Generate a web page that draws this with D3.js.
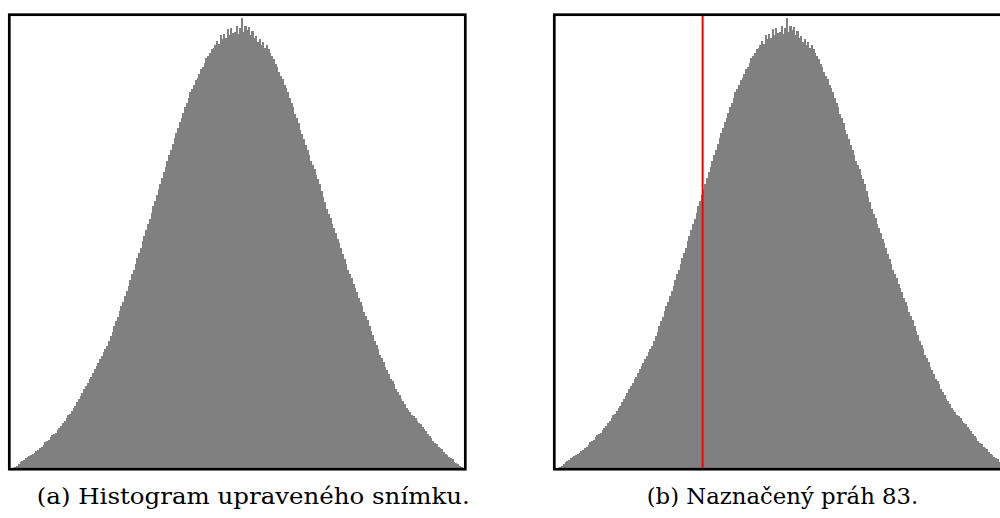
<!DOCTYPE html>
<html>
<head>
<meta charset="utf-8">
<script src="https://cdn.jsdelivr.net/npm/d3@7/dist/d3.min.js"></script>
<style>
  html, body { margin: 0; padding: 0; background: #fff; }
  svg { display: block; }
  .caption { font-family: "DejaVu Serif", serif; font-size: 22px; font-weight: normal; }
</style>
</head>
<body>
<svg id="chart" width="1000" height="518"></svg>
<script>
// Gray-level histogram of the adjusted image (256 levels)
const counts = [
  0, 0, 5, 22, 38, 55, 70, 82, 94, 107, 119, 131, 143, 150, 171, 180,
  198, 212, 233, 255, 268, 283, 304, 326, 339, 352, 375, 399, 420, 447, 468, 496,
  524, 543, 571, 598, 620, 654, 690, 716, 752, 788, 814, 850, 885, 912, 949, 988,
  1015, 1052, 1090, 1118, 1156, 1194, 1220, 1265, 1318, 1362, 1415, 1470, 1510, 1565, 1620, 1660,
  1715, 1772, 1820, 1878, 1938, 1982, 2041, 2100, 2145, 2204, 2268, 2315, 2378, 2442, 2490, 2553,
  2617, 2665, 2728, 2791, 2838, 2900, 2962, 3008, 3070, 3132, 3178, 3241, 3304, 3345, 3401, 3458,
  3497, 3553, 3610, 3648, 3704, 3760, 3790, 3835, 3878, 3902, 3944, 3988, 4010, 4053, 4096, 4120,
  4154, 4188, 4200, 4234, 4268, 4240, 4330, 4290, 4340, 4300, 4395, 4330, 4400, 4350, 4360, 4420,
  4340, 4400, 4505, 4360, 4420, 4380, 4410, 4330, 4370, 4300, 4320, 4260, 4290, 4230, 4260, 4200,
  4230, 4195, 4150, 4120, 4088, 4040, 4012, 3960, 3925, 3890, 3835, 3799, 3765, 3702, 3655, 3608,
  3543, 3496, 3450, 3384, 3337, 3290, 3225, 3178, 3132, 3072, 3030, 2988, 2927, 2885, 2835, 2765,
  2713, 2662, 2590, 2540, 2498, 2438, 2396, 2353, 2293, 2249, 2202, 2137, 2091, 2044, 1980, 1938,
  1897, 1839, 1799, 1758, 1700, 1658, 1617, 1557, 1516, 1475, 1415, 1373, 1331, 1270, 1228, 1186,
  1132, 1097, 1062, 1009, 974, 940, 893, 864, 835, 788, 759, 732, 692, 668, 643, 603,
  578, 561, 530, 514, 499, 468, 452, 437, 405, 388, 370, 338, 320, 302, 270, 252,
  238, 210, 197, 184, 156, 143, 130, 104, 95, 85, 62, 53, 42, 20, 10, 0
];
const levels = d3.range(counts.length);   // gray levels 0..255
const threshold = 83;                      // marked threshold in panel (b)
const countMax = 4520;                     // top of the count axis
const captions = ["(a) Histogram upraveného snímku.", "(b) Naznačený práh 83."];

// Panel geometry
const panels = [
  { x: 9.3, caption: captions[0], capX: 253.3, capW: 433, showThreshold: false },
  { x: 554.3, caption: captions[1], capX: 782.5, capW: 271.6, showThreshold: true }
];
const frameTop = 14.7, frameW = 456, frameH = 454.5, border = 2.7;
const captionY = 504;

const svg = d3.select("#chart");

panels.forEach(p => {
  const g = svg.append("g");
  const inL = p.x + border / 2, inR = p.x + frameW - border / 2;
  const inT = frameTop + border / 2, inB = frameTop + frameH - border / 2;

  const x = d3.scaleBand().domain(levels).range([inL, inR]).padding(0);
  const y = d3.scaleLinear().domain([0, countMax]).range([inB, inT]);

  // histogram bars
  g.append("g")
    .selectAll("rect")
    .data(levels)
    .join("rect")
      .attr("x", d => x(d))
      .attr("width", x.bandwidth() + 0.4)
      .attr("y", d => y(counts[d]))
      .attr("height", d => inB - y(counts[d]))
      .attr("fill", "#808080")
      .attr("shape-rendering", "crispEdges");

  // threshold marker
  if (p.showThreshold) {
    const tx = x(threshold);
    g.append("line")
      .attr("x1", tx).attr("x2", tx)
      .attr("y1", y(countMax)).attr("y2", inB)
      .attr("stroke", "#ff0000")
      .attr("stroke-width", 2);
  }

  // frame
  g.append("rect")
    .attr("x", p.x).attr("y", frameTop)
    .attr("width", frameW).attr("height", frameH)
    .attr("fill", "none")
    .attr("stroke", "#000")
    .attr("stroke-width", border);

  // caption, fitted to the caption's measured width
  const t = svg.append("text")
    .attr("class", "caption")
    .attr("x", p.capX).attr("y", captionY)
    .attr("text-anchor", "middle")
    .attr("fill", "#000")
    .text(p.caption);
  const natural = t.node().getComputedTextLength();
  if (Math.abs(natural - p.capW) > 1) {
    t.attr("textLength", p.capW).attr("lengthAdjust", "spacingAndGlyphs");
  }
});
</script>
</body>
</html>
